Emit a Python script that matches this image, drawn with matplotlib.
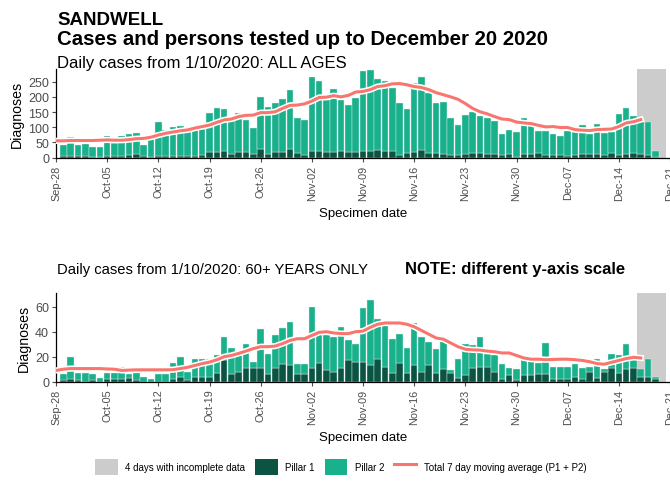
import pandas as pd
import numpy as np
import matplotlib
matplotlib.use('Agg')
import matplotlib.pyplot as plt
import matplotlib.dates as mdates
import matplotlib.patheffects as pe
from matplotlib.patches import Patch
from matplotlib.lines import Line2D

plt.rcParams['font.family'] = ['Liberation Sans', 'DejaVu Sans']

# daily bars: 29 Sep -> 19 Dec 2020
bar_dates = pd.date_range('2020-09-29', '2020-12-19')
# moving average line: 28 Sep -> 17 Dec 2020
ma_dates = pd.date_range('2020-09-28', '2020-12-17')

# all ages - total (P1 + P2) per day
all_total = ([42, 68] +
             [41, 44, 35, 35, 72, 47, 71, 76, 80, 41, 60, 117, 92, 102, 103, 93,
              90, 93, 148, 163, 160, 120, 147, 124, 98, 200, 168, 180, 193, 222, 129] +
             [124, 265, 252, 189, 226, 189, 172, 195, 285, 288, 259, 253, 229, 181, 161,
              245, 267, 212, 179, 184, 131, 106, 140, 151, 137, 129, 122, 76, 92, 84] +
             [131, 122, 88, 89, 78, 72, 87, 83, 106, 79, 112, 81, 83, 142, 164, 137, 131, 117, 23])
# all ages - pillar 1
all_p1 = ([4, 4] +
          [4, 5, 3, 3, 5, 5, 6, 8, 13, 4, 3, 6, 5, 5, 5, 6,
           6, 7, 17, 19, 23, 13, 17, 17, 11, 29, 11, 19, 19, 29, 15] +
          [7, 23, 20, 19, 18, 21, 18, 18, 20, 20, 25, 22, 20, 9, 14,
           18, 25, 14, 15, 11, 9, 7, 11, 16, 16, 13, 11, 7, 13, 2] +
          [11, 11, 14, 9, 7, 7, 6, 7, 11, 11, 11, 9, 14, 9, 11, 15, 11, 7, 2])
all_ma = ([55, 55, 56] +
          [56, 56, 56, 57, 58, 57, 57, 59, 62, 63, 67, 74, 80, 84, 88, 91,
           97, 102, 107, 116, 124, 127, 135, 139, 140, 148, 148, 151, 162, 172, 173] +
          [177, 186, 198, 199, 204, 200, 205, 216, 218, 224, 234, 237, 243, 244, 240,
           234, 231, 224, 214, 207, 200, 192, 178, 162, 151, 144, 135, 127, 125, 117] +
          [114, 112, 106, 101, 102, 99, 99, 92, 90, 89, 92, 93, 94, 102, 114, 118, 125])

# 60+ only
old_total = ([6, 20] +
             [7, 7, 6, 3, 7, 7, 12, 6, 7, 4, 2, 6, 6, 15, 20, 8,
              18, 18, 18, 21, 36, 27, 21, 30, 16, 42, 22, 37, 43, 48, 14] +
             [14, 60, 38, 37, 36, 44, 33, 30, 59, 65, 50, 45, 34, 38, 27,
              47, 36, 32, 26, 33, 9, 18, 30, 29, 36, 22, 21, 14, 11, 10] +
             [18, 17, 15, 31, 12, 12, 12, 14, 11, 12, 18, 10, 22, 21, 30, 19, 10, 18, 4])
old_p1 = ([1, 2] +
          [1, 0, 1, 0, 2, 2, 2, 3, 1, 0, 0, 0, 0, 2, 4, 1,
           4, 4, 4, 7, 17, 6, 8, 11, 11, 11, 6, 11, 14, 13, 6] +
          [6, 11, 15, 9, 8, 11, 17, 16, 16, 13, 18, 12, 7, 15, 7,
           13, 8, 13, 7, 10, 7, 3, 5, 11, 12, 12, 8, 2, 5, 1] +
          [5, 5, 6, 6, 2, 2, 2, 4, 2, 8, 3, 8, 11, 7, 10, 11, 4, 4, 2])
old_ma = ([9, 10, 10.5] +
          [10.5, 10.5, 10.5, 10.5, 10.2, 10, 9, 9.3, 9.5, 9.5, 9.5, 9.5, 9.5, 9.6, 10.5, 11.5,
           13, 14.5, 15.7, 17.5, 20, 21, 22.7, 24.5, 26.5, 28, 28, 28.5, 30.5, 33, 34.4] +
          [34.4, 37, 39.5, 40, 39, 38.5, 38.5, 40, 40.5, 43.5, 46, 47, 47, 47, 46,
           44, 41, 38, 35, 34, 31, 28, 26, 25.5, 25.3, 24.5, 24, 23, 23, 21] +
          [19, 18, 18, 17.6, 17.8, 18, 18, 17.6, 17, 16, 14.5, 14, 15.5, 17, 18.5, 19.5, 19])

incomplete_start = pd.Timestamp('2020-12-16 12:00')
incomplete_end = pd.Timestamp('2020-12-20 12:00')

week_ticks = pd.date_range('2020-09-28', '2020-12-21', freq='7D')

c_p1 = '#0b5443'
c_p2 = '#19b08c'
c_grey = '#cccccc'
c_line = '#f8766d'
tick_col = '#4d4d4d'

W, H = 670, 485
fig = plt.figure(figsize=(W / 100, H / 100), dpi=100)


def px_axes(left, top, right, bottom):
    return fig.add_axes([left / W, 1 - bottom / H, (right - left) / W, (bottom - top) / H])


def panel(ax, total, p1, ma, ymax, yticks):
    x = mdates.date2num(bar_dates)
    total = np.array(total, dtype=float)
    p1 = np.array(p1, dtype=float)
    ax.axvspan(incomplete_start, incomplete_end, color=c_grey, lw=0, zorder=0)
    ax.bar(x, p1, width=0.9, color=c_p1, edgecolor='#dfeee9', linewidth=0.3, zorder=2)
    ax.bar(x, total - p1, bottom=p1, width=0.9, color=c_p2, edgecolor='#dfeee9',
           linewidth=0.3, zorder=2)
    ax.plot(mdates.date2num(ma_dates), ma, color=c_line, lw=2.2, zorder=3,
            path_effects=[pe.Stroke(linewidth=4.5, foreground='white'), pe.Normal()])
    ax.set_xlim(mdates.date2num(pd.Timestamp('2020-09-28')),
                mdates.date2num(pd.Timestamp('2020-12-21')))
    ax.set_ylim(0, ymax)
    ax.set_yticks(yticks)
    ax.set_xticks(mdates.date2num(week_ticks))
    ax.xaxis.set_major_formatter(mdates.DateFormatter('%b-%d'))
    for s in ['top', 'right']:
        ax.spines[s].set_visible(False)
    for s in ['left', 'bottom']:
        ax.spines[s].set_linewidth(0.9)
        ax.spines[s].set_color('black')
    ax.tick_params(axis='x', labelrotation=90, labelsize=7.8, colors=tick_col,
                   length=3, width=0.8, pad=2)
    ax.tick_params(axis='y', labelsize=9, colors=tick_col, length=3, width=0.8, pad=2)
    ax.set_ylabel('Diagnoses', fontsize=10.2, labelpad=3)
    ax.set_xlabel('Specimen date', fontsize=9.5, labelpad=5)


ax1 = px_axes(56, 70, 670, 158.5)
panel(ax1, all_total, all_p1, all_ma, 292, [0, 50, 100, 150, 200, 250])

ax2 = px_axes(56, 294, 670, 382.7)
panel(ax2, old_total, old_p1, old_ma, 71, [0, 20, 40, 60])

# titles
fig.text(57 / W, 1 - 25 / H, 'SANDWELL', fontsize=13.5, fontweight='bold', va='baseline')
fig.text(57 / W, 1 - 45 / H, 'Cases and persons tested up to December 20 2020',
         fontsize=14.7, fontweight='bold', va='baseline')
fig.text(57 / W, 1 - 68.5 / H, 'Daily cases from 1/10/2020: ALL AGES', fontsize=12,
         va='baseline')
fig.text(57 / W, 1 - 274 / H, 'Daily cases from 1/10/2020: 60+ YEARS ONLY', fontsize=10.6,
         va='baseline')
fig.text(405 / W, 1 - 274 / H, 'NOTE: different y-axis scale', fontsize=12,
         fontweight='bold', va='baseline')

handles = [Patch(facecolor=c_grey, edgecolor='none'),
           Patch(facecolor=c_p1, edgecolor='none'),
           Patch(facecolor=c_p2, edgecolor='none'),
           Line2D([0], [0], color=c_line, lw=2.2)]
labels = ['4 days with incomplete data', 'Pillar 1', 'Pillar 2',
          'Total 7 day moving average (P1 + P2)']
fig.legend(handles, labels, loc='center', bbox_to_anchor=(341 / W, 1 - 468 / H), ncol=4,
           frameon=False, fontsize=7, handlelength=2.3, handleheight=2.3,
           handletextpad=0.8, columnspacing=1.0)

fig.savefig('out.png', dpi=100)
